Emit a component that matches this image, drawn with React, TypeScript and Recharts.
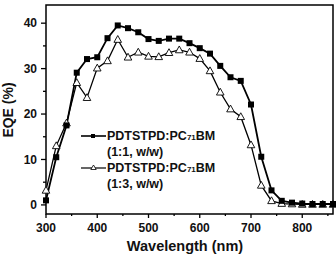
import { LineChart, Line, XAxis, YAxis, ReferenceArea } from 'recharts';

const wavelengths = [300, 320, 340, 360, 380, 400, 420, 440, 460, 480, 500, 520, 540, 560, 580, 600, 620, 640, 660, 680, 700, 720, 740, 760, 780, 800, 820, 840, 860];
const eqe11 = [1.0, 10.5, 17.5, 29.1, 32.1, 32.5, 36.7, 39.5, 38.9, 38.0, 36.5, 36.1, 36.6, 36.6, 35.6, 34.5, 33.3, 30.6, 28.1, 27.3, 22.1, 10.6, 3.2, 0.9, 0.5, 0.3, 0.2, 0.2, 0.2];
const eqe13 = [3.2, 13.0, 18.0, 26.9, 23.6, 30.1, 31.7, 36.4, 32.5, 33.6, 32.7, 32.6, 33.5, 34.1, 33.6, 32.2, 29.5, 24.8, 21.1, 19.4, 13.2, 4.3, 0.9, 0.3, 0.2, 0.1, 0.1, 0.1, 0.1];
const xTicks = [300, 350, 400, 450, 500, 550, 600, 650, 700, 750, 800, 850];
const yTicks = [0, 5, 10, 15, 20, 25, 30, 35, 40];

const data = wavelengths.map((w, i) => ({ w, a: eqe11[i], b: eqe13[i] }));

const FONT = 'Arial, "Liberation Sans", sans-serif';

const XTick = (props: any) => {
  const { x, y, payload } = props;
  const major = payload.value % 100 === 0;
  return (
    <g>
      <line x1={x} x2={x} y1={y} y2={y + (major ? 4 : 2)} stroke="#000" strokeWidth={1.3} />
      {major && (
        <text x={x} y={y + 18} textAnchor="middle" fontSize={12} fontWeight="bold" fontFamily={FONT} fill="#111">
          {payload.value}
        </text>
      )}
    </g>
  );
};

const YTick = (props: any) => {
  const { x, y, payload } = props;
  const major = payload.value % 10 === 0;
  return (
    <g>
      <line x1={x} x2={x - (major ? 5 : 3)} y1={y} y2={y} stroke="#000" strokeWidth={1.3} />
      {major && (
        <text x={x - 9} y={y} dy="0.35em" textAnchor="end" fontSize={12} fontWeight="bold" fontFamily={FONT} fill="#111">
          {payload.value}
        </text>
      )}
    </g>
  );
};

const SquareDot = (props: any) => {
  const { cx, cy, index } = props;
  return <rect key={`s${index}`} x={cx - 3} y={cy - 3} width={6} height={6} fill="#000" />;
};

const TriDot = (props: any) => {
  const { cx, cy, index } = props;
  return (
    <polygon
      key={`t${index}`}
      points={`${cx},${cy - 4} ${cx - 3.8},${cy + 2.8} ${cx + 3.8},${cy + 2.8}`}
      fill="#fff"
      stroke="#000"
      strokeWidth={0.9}
    />
  );
};

const LegendBox = () => (
  <svg width={160} height={70} style={{ position: 'absolute', left: 76, top: 126, overflow: 'visible' }}>
    <g fontFamily={FONT} fontWeight="bold" fontSize={12.5} fill="#111">
      <line x1={5} x2={30} y1={10} y2={10} stroke="#000" strokeWidth={1.6} />
      <rect x={15} y={8} width={4} height={4} fill="#000" />
      <text x={31} y={14}>
        PDTSTPD:PC<tspan fontSize={8}>71</tspan>BM
      </text>
      <text x={31} y={30}>(1:1, w/w)</text>
      <line x1={5} x2={30} y1={42} y2={42} stroke="#000" strokeWidth={1.2} />
      <polygon points="17.5,39 14.8,43.5 20.2,43.5" fill="#fff" stroke="#000" strokeWidth={0.8} />
      <text x={31} y={46}>
        PDTSTPD:PC<tspan fontSize={8}>71</tspan>BM
      </text>
      <text x={31} y={62}>(1:3, w/w)</text>
    </g>
  </svg>
);

export default function App() {
  return (
    <div style={{ position: 'absolute', left: 0, top: 0, width: 336, height: 255, background: '#fff' }}>
      <LineChart width={336} height={255} data={data} margin={{ top: 5, right: 3, left: 0, bottom: 0 }}>
        <XAxis
          dataKey="w"
          type="number"
          domain={[300, 860]}
          ticks={xTicks}
          interval={0}
          axisLine={false}
          tickLine={false}
          tickSize={0}
          tickMargin={0}
          tick={<XTick />}
          height={41}
          label={{
            content: () => (
              <text x={185} y={251} textAnchor="middle" fontSize={14.5} fontWeight="bold" fontFamily={FONT} fill="#111">
                Wavelength (nm)
              </text>
            ),
          }}
        />
        <YAxis
          type="number"
          domain={[-2, 44]}
          ticks={yTicks}
          interval={0}
          axisLine={false}
          tickLine={false}
          tickSize={0}
          tickMargin={0}
          tick={<YTick />}
          width={46}
          label={{
            content: () => (
              <text transform="translate(13,110) rotate(-90)" textAnchor="middle" fontSize={14} fontWeight="bold" fontFamily={FONT} fill="#111">
                EQE (%)
              </text>
            ),
          }}
        />
        <ReferenceArea x1={300} x2={860} y1={-2} y2={44} fill="none" stroke="#000" strokeWidth={1.5} fillOpacity={0} />
        <Line type="linear" dataKey="b" stroke="#000" strokeWidth={1.3} dot={(p: any) => <TriDot {...p} />} isAnimationActive={false} />
        <Line type="linear" dataKey="a" stroke="#000" strokeWidth={1.8} dot={(p: any) => <SquareDot {...p} />} isAnimationActive={false} />
      </LineChart>
      <LegendBox />
    </div>
  );
}
